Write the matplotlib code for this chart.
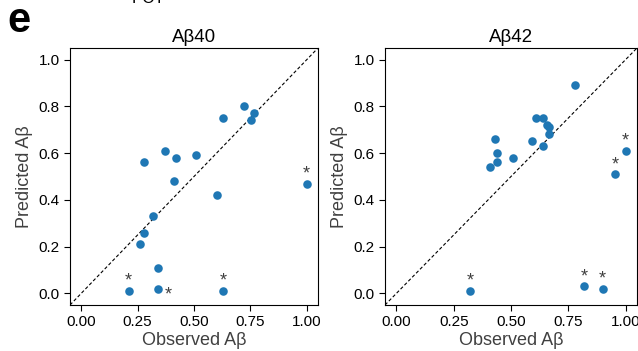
import matplotlib.pyplot as plt

plt.rcParams['font.family'] = ['Liberation Sans', 'DejaVu Sans']

# Abeta40 observed vs predicted
obs40 = [0.21, 0.28, 0.26, 0.28, 0.32, 0.34, 0.34, 0.37, 0.41, 0.42,
         0.51, 0.60, 0.63, 0.63, 0.72, 0.755, 0.765, 1.00]
pred40 = [0.01, 0.56, 0.21, 0.26, 0.33, 0.11, 0.02, 0.61, 0.48, 0.58,
          0.59, 0.42, 0.75, 0.01, 0.80, 0.74, 0.77, 0.47]
star40 = [0, 6, 13, 17]

# Abeta42 observed vs predicted
obs42 = [0.32, 0.41, 0.43, 0.44, 0.44, 0.51, 0.59, 0.61, 0.64, 0.64,
         0.655, 0.665, 0.665, 0.78, 0.82, 0.90, 0.955, 1.00]
pred42 = [0.01, 0.54, 0.66, 0.60, 0.56, 0.58, 0.65, 0.75, 0.75, 0.63,
          0.72, 0.71, 0.68, 0.89, 0.03, 0.02, 0.51, 0.61]
star42 = [0, 14, 15, 16, 17]

blue = '#1f77b4'
gray = '#404040'

fig = plt.figure(figsize=(6.38, 3.51), dpi=100)
ax1 = fig.add_axes([70/638, 1 - 305/351, 248/638, 257/351])
ax2 = fig.add_axes([385/638, 1 - 305/351, 252/638, 257/351])

panels = [(ax1, obs40, pred40, star40, 'A\u03b240'),
          (ax2, obs42, pred42, star42, 'A\u03b242')]

for ax, xs, ys, stars, title in panels:
    ax.plot([-0.05, 1.05], [-0.05, 1.05], 'k--', lw=0.8, dashes=(3, 2))
    ax.scatter(xs, ys, s=38, color=blue, zorder=3, linewidths=0)
    for i in stars:
        if ax is ax1 and i == 6:
            ax.text(xs[i] + 0.03, ys[i] - 0.025, '*', fontsize=13, color=gray,
                    ha='left', va='center')
        else:
            ax.text(xs[i], ys[i] + 0.005, '*', fontsize=13, color=gray,
                    ha='center', va='bottom')
    ax.set_xlim(-0.05, 1.05)
    ax.set_ylim(-0.05, 1.05)
    ax.set_xticks([0, 0.25, 0.5, 0.75, 1.0])
    ax.set_xticklabels(['0.00', '0.25', '0.50', '0.75', '1.00'])
    ax.set_yticks([0, 0.2, 0.4, 0.6, 0.8, 1.0])
    ax.tick_params(labelsize=11, length=4, colors='black')
    ax.set_title(title, fontsize=13.5, pad=4)
    ax.set_xlabel('Observed A\u03b2', fontsize=13, color=gray, labelpad=2)
    ax.set_ylabel('Predicted A\u03b2', fontsize=13, color=gray, labelpad=4)

fig.text(0.012, 0.94, 'e', fontsize=30, fontweight='bold', va='center')
fig.text(0.232, 1.005, 'PCT', fontsize=12, ha='center', va='center')

fig.savefig('out.png', dpi=100)
